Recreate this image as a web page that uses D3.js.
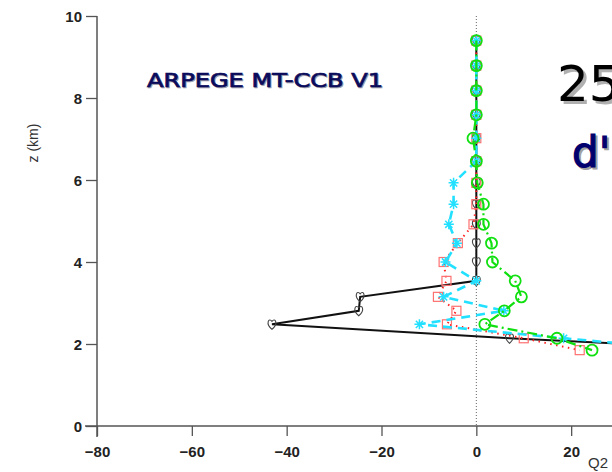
<!DOCTYPE html>
<html>
<head>
<meta charset="utf-8">
<script src="https://cdn.jsdelivr.net/npm/d3@7"></script>
<style>
  body { margin: 0; background: #fff; }
  svg { display: block; }
  .tick text { font-family: "Liberation Sans", Arial, sans-serif; font-weight: bold; font-size: 15px; fill: #222; }
  .tick line { stroke: #555; stroke-width: 1.3; }
</style>
</head>
<body>
<div id="chart"></div>
<script>
// heights of the model levels (km)
var levels = [9.40, 8.79, 8.18, 7.59, 7.02, 6.46, 5.93, 5.41, 4.92, 4.46, 4.00, 3.54, 3.15, 2.81, 2.48, 2.14, 1.85];

// Q2 profiles, one per curve
var blackQ = [0, 0, 0, 0, 0, 0, 0, 0, 0, 0, 0, 0, -24.5, -24.8, -43.1, 7.0, 58];
var redQ   = [0, 0, 0, 0, 0, 0, 0, 0, -0.6, -3.9, -6.9, -6.3, -8.1, -4.2, -6.2, 10, 21.8];
var cyanQ  = [0, 0, 0, 0, 0, 0, -4.8, -4.8, -5.8, -4.1, -6.5, 0, -6.9, 5.8, -12.0, 18.4, 46];
var greenQ = [0, 0, 0, 0, -0.7, 0, 0.2, 1.5, 1.5, 3.2, 3.4, 8.2, 9.5, 5.9, 1.8, 17.0, 24.4];

var xTicks = [-80, -60, -40, -20, 0, 20];
var yTicks = [0, 2, 4, 6, 8, 10];

var width = 612, height = 472;

var svg = d3.select("#chart")
  .append("svg")
  .attr("width", width)
  .attr("height", height);

var x = d3.scaleLinear().domain([-80, 40]).range([97, 666]);
var y = d3.scaleLinear().domain([0, 10]).range([426, 16]);

// zero line (dotted)
svg.append("line")
  .attr("x1", x(0)).attr("x2", x(0))
  .attr("y1", y(10)).attr("y2", y(0))
  .attr("stroke", "#666")
  .attr("stroke-width", 1)
  .attr("stroke-dasharray", "1,2");

// axes
var gx = svg.append("g")
  .attr("transform", "translate(0," + y(0) + ")")
  .call(d3.axisBottom(x).tickValues(xTicks).tickSize(10).tickPadding(10).tickFormat(d3.format("d")));
gx.select(".domain").remove();

var gy = svg.append("g")
  .attr("transform", "translate(" + x(-80) + ",0)")
  .call(d3.axisLeft(y).tickValues(yTicks).tickSize(11).tickPadding(4).tickFormat(d3.format("d")));
gy.select(".domain").remove();
gy.selectAll(".tick text").attr("dy", "0.36em");

svg.append("line")
  .attr("x1", x(-80) - 12).attr("x2", width)
  .attr("y1", y(0)).attr("y2", y(0))
  .attr("stroke", "#555").attr("stroke-width", 1.5);
svg.append("line")
  .attr("x1", x(-80)).attr("x2", x(-80))
  .attr("y1", y(10)).attr("y2", y(0) + 11)
  .attr("stroke", "#555").attr("stroke-width", 1.5);

svg.append("text")
  .attr("transform", "translate(38,143) rotate(-90)")
  .attr("text-anchor", "middle")
  .attr("font-family", "Liberation Sans, Arial, sans-serif")
  .attr("font-size", 14)
  .attr("fill", "#333")
  .text("z (km)");

svg.append("text")
  .attr("x", 588).attr("y", 468)
  .attr("font-family", "Liberation Sans, Arial, sans-serif")
  .attr("font-size", 15)
  .attr("fill", "#333")
  .text("Q2");

// marker shapes
function heart(px, py) {
  return "M" + px + "," + (py + 5) +
    " C" + (px - 7) + "," + (py - 1) + " " + (px - 3) + "," + (py - 7) + " " + px + "," + (py - 3) +
    " C" + (px + 3) + "," + (py - 7) + " " + (px + 7) + "," + (py - 1) + " " + px + "," + (py + 5) + "Z";
}
function star(px, py) {
  var r = 5, d = 3.6, s = "";
  s += "M" + (px - r) + "," + py + "L" + (px + r) + "," + py;
  s += "M" + px + "," + (py - r) + "L" + px + "," + (py + r);
  s += "M" + (px - d) + "," + (py - d) + "L" + (px + d) + "," + (py + d);
  s += "M" + (px - d) + "," + (py + d) + "L" + (px + d) + "," + (py - d);
  return s;
}

function profile(vals) {
  return levels.map(function(z, i) { return { z: z, v: vals[i] }; });
}

var line = d3.line()
  .x(function(d) { return x(d.v); })
  .y(function(d) { return y(d.z); });

// black solid, hearts
var black = profile(blackQ);
svg.append("path").datum(black)
  .attr("fill", "none").attr("stroke", "#111").attr("stroke-width", 2)
  .attr("d", line);
svg.selectAll(".heart").data(black).enter().append("path")
  .attr("class", "heart")
  .attr("fill", "none").attr("stroke", "#444").attr("stroke-width", 1.1)
  .attr("d", function(d) { return heart(x(d.v), y(d.z)); });

// red dotted, squares
var red = profile(redQ);
svg.append("path").datum(red)
  .attr("fill", "none").attr("stroke", "#ff2020").attr("stroke-width", 2)
  .attr("stroke-dasharray", "1.5,4.5")
  .attr("d", line);
svg.selectAll(".sq").data(red).enter().append("rect")
  .attr("class", "sq")
  .attr("x", function(d) { return x(d.v) - 4.5; })
  .attr("y", function(d) { return y(d.z) - 4.5; })
  .attr("width", 9).attr("height", 9)
  .attr("fill", "none").attr("stroke", "#ff7070").attr("stroke-width", 1.2);

// cyan dashed, asterisks
var cyan = profile(cyanQ);
svg.append("path").datum(cyan)
  .attr("fill", "none").attr("stroke", "#22e0ff").attr("stroke-width", 2.6)
  .attr("stroke-dasharray", "9,6")
  .attr("d", line);
svg.selectAll(".star").data(cyan).enter().append("path")
  .attr("class", "star")
  .attr("fill", "none").attr("stroke", "#22e0ff").attr("stroke-width", 1.5)
  .attr("d", function(d) { return star(x(d.v), y(d.z)); });

// green dash-dot, circles
var green = profile(greenQ);
svg.append("path").datum(green)
  .attr("fill", "none").attr("stroke", "#10e010").attr("stroke-width", 2.2)
  .attr("stroke-dasharray", "10,4,2,4")
  .attr("d", line);
svg.selectAll(".circ").data(green).enter().append("circle")
  .attr("class", "circ")
  .attr("cx", function(d) { return x(d.v); })
  .attr("cy", function(d) { return y(d.z); })
  .attr("r", 5.5)
  .attr("fill", "none").attr("stroke", "#10e010").attr("stroke-width", 1.8);

// titles
function shadowText(tx, ty, txt, size, color, shadow, off, sw, len) {
  [[off, shadow], [0, color]].forEach(function(p) {
    var t = svg.append("text")
      .attr("x", tx + p[0]).attr("y", ty + p[0])
      .attr("font-family", "DejaVu Sans, Verdana, sans-serif")
      .attr("font-size", size)
      .attr("fill", p[1])
      .attr("stroke", p[1])
      .attr("stroke-width", sw)
      .text(txt);
    if (len) t.attr("textLength", len).attr("lengthAdjust", "spacingAndGlyphs");
  });
}
shadowText(147, 87, "ARPEGE MT-CCB V1", 19, "#0b0b5c", "#9a9aa8", 1, 0.7, 236);
shadowText(557, 101, "25", 50, "#000", "#b0b0b0", 3, 0, null);
shadowText(572, 167, "d'", 42, "#00006e", "#a0a0a0", 2, 1.2, null);
</script>
</body>
</html>
